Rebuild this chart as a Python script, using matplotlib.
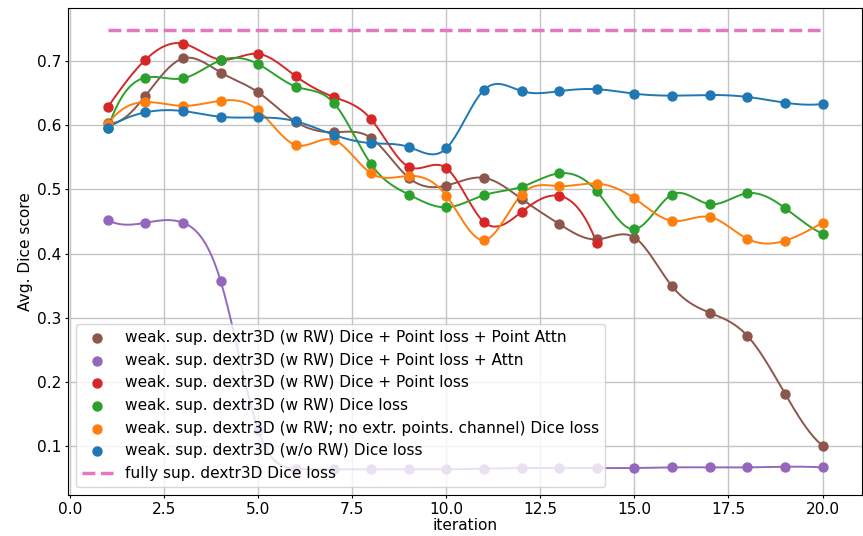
import numpy as np
import matplotlib
matplotlib.use("Agg")
import matplotlib.pyplot as plt

iterations = list(range(1, 21))
iterations_red = list(range(1, 15))

brown_point_attn = [0.604, 0.646, 0.704, 0.682, 0.651, 0.605, 0.589, 0.580, 0.518, 0.506,
                    0.518, 0.485, 0.446, 0.422, 0.425, 0.349, 0.308, 0.272, 0.182, 0.101]
purple_attn = [0.452, 0.448, 0.448, 0.357, 0.125, 0.065, 0.064, 0.064, 0.064, 0.064,
               0.065, 0.066, 0.066, 0.066, 0.066, 0.067, 0.067, 0.067, 0.068, 0.067]
red_point_loss = [0.628, 0.702, 0.727, 0.702, 0.711, 0.676, 0.644, 0.609, 0.535, 0.533,
                  0.449, 0.465, 0.490, 0.416]
green_dice = [0.595, 0.674, 0.673, 0.701, 0.695, 0.660, 0.635, 0.539, 0.492, 0.472,
              0.491, 0.504, 0.525, 0.497, 0.438, 0.492, 0.477, 0.494, 0.471, 0.431]
orange_no_extr = [0.602, 0.636, 0.630, 0.638, 0.623, 0.569, 0.577, 0.525, 0.521, 0.490,
                  0.421, 0.492, 0.505, 0.509, 0.486, 0.451, 0.457, 0.423, 0.420, 0.448]
blue_wo_rw = [0.596, 0.620, 0.622, 0.613, 0.612, 0.606, 0.585, 0.572, 0.566, 0.564,
              0.655, 0.653, 0.653, 0.656, 0.649, 0.646, 0.647, 0.644, 0.635, 0.633]
fully_sup = 0.748

labels = [
    "weak. sup. dextr3D (w RW) Dice + Point loss + Point Attn",
    "weak. sup. dextr3D (w RW) Dice + Point loss + Attn",
    "weak. sup. dextr3D (w RW) Dice + Point loss",
    "weak. sup. dextr3D (w RW) Dice loss",
    "weak. sup. dextr3D (w RW; no extr. points. channel) Dice loss",
    "weak. sup. dextr3D (w/o RW) Dice loss",
]
full_label = "fully sup. dextr3D Dice loss"


def spline(x, y, xs):
    x = np.asarray(x, float); y = np.asarray(y, float)
    n = len(x); h = np.diff(x)
    A = np.zeros((n, n)); r = np.zeros(n)
    for i in range(1, n - 1):
        A[i, i - 1] = h[i - 1]; A[i, i] = 2 * (h[i - 1] + h[i]); A[i, i + 1] = h[i]
        r[i] = 6 * ((y[i + 1] - y[i]) / h[i] - (y[i] - y[i - 1]) / h[i - 1])
    A[0, 0] = h[1]; A[0, 1] = -(h[0] + h[1]); A[0, 2] = h[0]
    A[-1, -3] = h[-1]; A[-1, -2] = -(h[-2] + h[-1]); A[-1, -1] = h[-2]
    M = np.linalg.solve(A, r)
    idx = np.clip(np.searchsorted(x, xs) - 1, 0, n - 2)
    x0 = x[idx]; x1 = x[idx + 1]; hh = x1 - x0
    return (M[idx] * (x1 - xs) ** 3 / (6 * hh) + M[idx + 1] * (xs - x0) ** 3 / (6 * hh)
            + (y[idx] / hh - M[idx] * hh / 6) * (x1 - xs)
            + (y[idx + 1] / hh - M[idx + 1] * hh / 6) * (xs - x0))


series = [
    (iterations, brown_point_attn, "C5"),
    (iterations, purple_attn, "C4"),
    (iterations_red, red_point_loss, "C3"),
    (iterations, green_dice, "C2"),
    (iterations, orange_no_extr, "C1"),
    (iterations, blue_wo_rw, "C0"),
]

plt.rcParams['font.size'] = 11.1
fig = plt.figure(figsize=(8.63, 5.36), dpi=100)
ax = fig.add_axes([0.0788, 0.0765, 0.9205, 0.908])

for (xv, yv, c), lab in zip(series, labels):
    xs = np.linspace(xv[0], xv[-1], 400)
    ax.plot(xs, spline(xv, yv, xs), color=c, lw=1.4)
    ax.scatter(xv, yv, color=c, s=42, label=lab, zorder=3)

ax.plot([iterations[0], iterations[-1]], [fully_sup, fully_sup], "--", color="C6",
        lw=2.5, label=full_label)

ax.set_xlim(-0.06, 21.06)
ax.set_ylim(0.024, 0.782)
ax.grid(True, color="#c4c4c4", lw=1.0)
ax.set_axisbelow(True)
ax.tick_params(length=2.5, pad=2.2)
ax.set_xlabel("iteration", labelpad=1)
ax.set_ylabel("Avg. Dice score", labelpad=3)
ax.legend(loc="lower left")
fig.savefig("out.png", dpi=100)
